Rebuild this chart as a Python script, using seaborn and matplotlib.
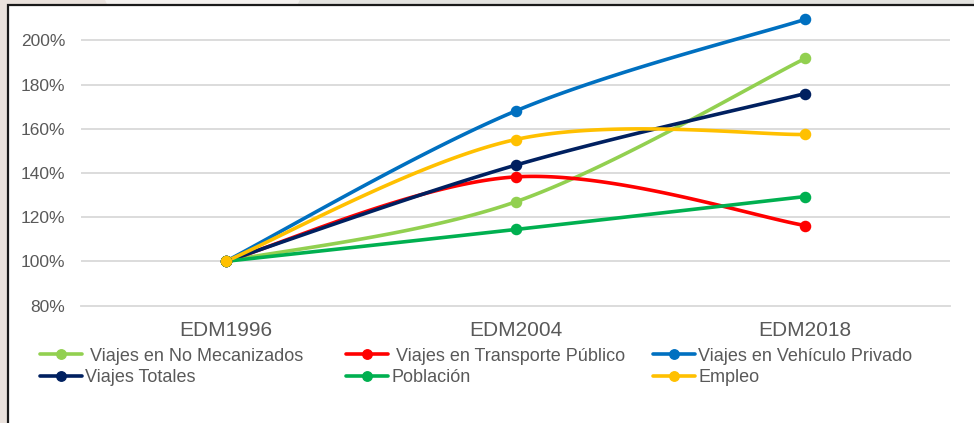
import numpy as np
import matplotlib
matplotlib.use("Agg")
import matplotlib.pyplot as plt
from matplotlib.lines import Line2D
from matplotlib.patches import Rectangle, Polygon
import seaborn as sns

# ---- data ----
categories = ["EDM1996", "EDM2004", "EDM2018"]
no_mecanizados = [100, 126.9, 191.8]
transporte_publico = [100, 138.2, 116.2]
vehiculo_privado = [100, 168.0, 209.5]
viajes_totales = [100, 143.5, 175.9]
poblacion = [100, 114.4, 129.3]
empleo = [100, 155.1, 157.4]

series_names = [" Viajes en No Mecanizados", " Viajes en Transporte Público",
                "Viajes en Vehículo Privado", "Viajes Totales", "Población", "Empleo"]
series_values = [no_mecanizados, transporte_publico, vehiculo_privado,
                 viajes_totales, poblacion, empleo]
series_colors = ["#92D050", "#FF0000", "#0070C0", "#002060", "#00B050", "#FFC000"]

y_ticks = [80, 100, 120, 140, 160, 180, 200]
y_tick_labels = ["80%", "100%", "120%", "140%", "160%", "180%", "200%"]

TXT = "#595959"
GRID = "#D9D9D9"

sns.set_theme(style="white")
plt.rcParams["font.family"] = ["Liberation Sans", "DejaVu Sans"]


def smooth(xs, ys, n=60):
    """Excel-like smoothed line: cubic Bezier segments through the points."""
    pts = np.column_stack([np.asarray(xs, float), np.asarray(ys, float)])
    k = len(pts)
    out = []
    t = np.linspace(0, 1, n)[:, None]
    for i in range(k - 1):
        p0 = pts[max(i - 1, 0)]
        p1 = pts[i]
        p2 = pts[i + 1]
        p3 = pts[min(i + 2, k - 1)]
        c1 = p1 + (p2 - p0) / 6.0
        c2 = p2 - (p3 - p1) / 6.0
        b = ((1 - t) ** 3) * p1 + 3 * ((1 - t) ** 2) * t * c1 + 3 * (1 - t) * t ** 2 * c2 + t ** 3 * p2
        out.append(b if i == 0 else b[1:])
    b = np.vstack(out)
    return b[:, 0], b[:, 1]


W, H = 974, 423
fig = plt.figure(figsize=(W / 100, H / 100), dpi=100)
fig.patch.set_facecolor("#EAE2DD")

# slide decoration strip at the top
fig.patches.append(Polygon([(105 / W, 1.0), (300 / W, 1.0), (296 / W, 0.98), (109 / W, 0.98)],
                           closed=True, transform=fig.transFigure, facecolor="#F4F1EF",
                           edgecolor="none", zorder=0))
fig.patches.append(Polygon([(300 / W, 1.0), (1.0, 1.0), (1.0, 0.98), (296 / W, 0.98)],
                           closed=True, transform=fig.transFigure, facecolor="#E4E3DF",
                           edgecolor="none", zorder=0))
# white chart box
fig.patches.append(Rectangle((8 / W, -0.1), 1.2, 1.1 - 5 / H, transform=fig.transFigure,
                             facecolor="white", edgecolor="#1a1a1a", linewidth=1.6, zorder=1))

ax_bottom_px, ax_top_px = 305.5, 7.2
ax = fig.add_axes([81 / W, (H - ax_bottom_px) / H, (950 - 81) / W, (ax_bottom_px - ax_top_px) / H])
ax.set_facecolor("none")
ax.set_zorder(2)

x_pos = np.arange(len(categories))
for name, vals, col in zip(series_names, series_values, series_colors):
    sx, sy = smooth(x_pos, vals)
    sns.lineplot(x=sx, y=sy, sort=False, estimator=None, color=col, linewidth=2.6,
                 ax=ax, clip_on=False, solid_capstyle="round")
    ax.plot(x_pos, vals, linestyle="none", marker="o", markersize=7.3, color=col,
            markeredgecolor=col, clip_on=False, zorder=3)

ax.set_xlim(-0.5, 2.5)
ax.set_ylim(80, 215)
ax.set_yticks(y_ticks)
ax.set_yticklabels(y_tick_labels)
ax.set_xticks(x_pos)
ax.set_xticklabels(categories)
ax.set_xticks([-0.5, 0.5, 1.5, 2.5], minor=True)
ax.set_xlabel("")
ax.set_ylabel("")
for y in y_ticks[1:]:
    ax.axhline(y, color=GRID, linewidth=1.3, zorder=0)
for s in ["top", "right", "left"]:
    ax.spines[s].set_visible(False)
ax.spines["bottom"].set_color(GRID)
ax.spines["bottom"].set_linewidth(1.3)
ax.tick_params(axis="y", length=0, pad=11.5, labelsize=12.5, labelcolor=TXT)
ax.tick_params(axis="x", which="major", length=0, pad=11.5, labelsize=15, labelcolor=TXT)
ax.tick_params(axis="x", which="minor", length=4, width=1.2, color=GRID, direction="out")
ax.grid(False)

# legend: three columns as separate legends for exact placement
col_x = [40, 346, 653]
order = [[0, 3], [1, 4], [2, 5]]
for cx, idxs in zip(col_x, order):
    handles = [Line2D([0], [0], color=series_colors[i], linewidth=2.6, marker="o",
                      markersize=6.8) for i in idxs]
    labels = [series_names[i] for i in idxs]
    leg = fig.legend(handles, labels, loc="upper left", bbox_to_anchor=(cx / W, 1 - 347.5 / H),
                     frameon=False, borderpad=0, borderaxespad=0, handlelength=2.35,
                     handletextpad=0.15, labelspacing=0.27, fontsize=13)
    for t in leg.get_texts():
        t.set_color(TXT)

fig.savefig("out.png", dpi=100, facecolor=fig.get_facecolor())
